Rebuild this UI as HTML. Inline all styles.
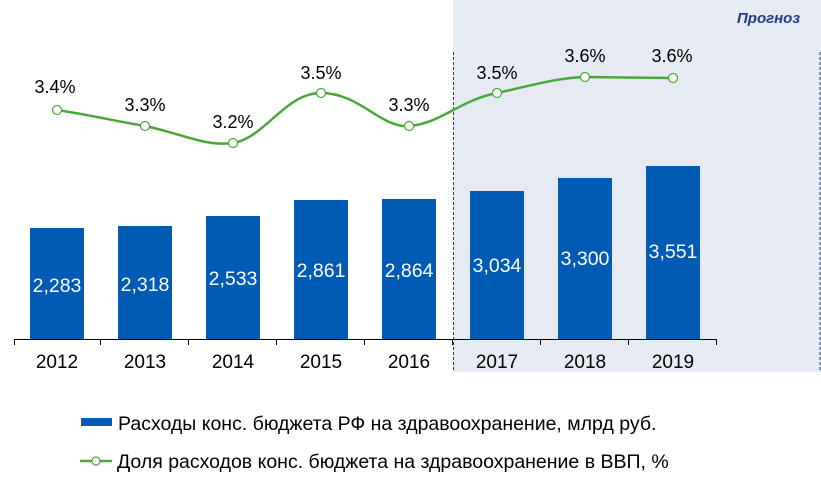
<!DOCTYPE html>
<html><head><meta charset="utf-8"><style>
body{margin:0;background:#fff;}
svg{display:block;font-family:"Liberation Sans",Arial,sans-serif;}
</style></head><body>
<svg width="821" height="478" viewBox="0 0 821 478">
<rect x="453" y="0" width="368" height="372" fill="#e6eaf3"/>
<line x1="453.5" y1="52" x2="453.5" y2="372" stroke="#1f3a7a" stroke-width="1" stroke-dasharray="3,2"/>
<line x1="820" y1="52" x2="820" y2="372" stroke="#1f3a7a" stroke-width="1" stroke-dasharray="3,2"/>
<text x="800" y="23" text-anchor="end" font-size="15" font-weight="bold" font-style="italic" fill="#1f3a8a">Прогноз</text>
<g fill="#005bb5">
<rect x="30" y="228" width="54" height="111"/>
<rect x="118" y="226" width="54" height="113"/>
<rect x="206" y="216" width="54" height="123"/>
<rect x="294" y="200" width="54" height="139"/>
<rect x="382" y="199" width="54" height="140"/>
<rect x="470" y="191" width="54" height="148"/>
<rect x="558" y="178" width="54" height="161"/>
<rect x="646" y="166" width="54" height="173"/>
</g>
<g fill="#fff" font-size="19.5" text-anchor="middle">
<text x="57" y="292">2,283</text>
<text x="145" y="291">2,318</text>
<text x="233" y="285">2,533</text>
<text x="321" y="277">2,861</text>
<text x="409" y="277">2,864</text>
<text x="497" y="272">3,034</text>
<text x="585" y="265">3,300</text>
<text x="673" y="258">3,551</text>
</g>
<line x1="14" y1="339.5" x2="716" y2="339.5" stroke="#000"/>
<g stroke="#000">
<line x1="14.5" y1="339" x2="14.5" y2="345"/><line x1="100.5" y1="339" x2="100.5" y2="345"/>
<line x1="188.5" y1="339" x2="188.5" y2="345"/><line x1="276.5" y1="339" x2="276.5" y2="345"/>
<line x1="364.5" y1="339" x2="364.5" y2="345"/><line x1="452.5" y1="339" x2="452.5" y2="345"/>
<line x1="540.5" y1="339" x2="540.5" y2="345"/><line x1="628.5" y1="339" x2="628.5" y2="345"/>
<line x1="716.5" y1="339" x2="716.5" y2="345"/>
</g>
<g font-size="19" text-anchor="middle" fill="#000">
<text x="57" y="368">2012</text><text x="145" y="368">2013</text><text x="233" y="368">2014</text>
<text x="321" y="368">2015</text><text x="409" y="368">2016</text><text x="497" y="368">2017</text>
<text x="585" y="368">2018</text><text x="673" y="368">2019</text>
</g>
<path d="M57,110 C90,115 115,121 145,126 C180,133 205,147 233,143 C265,138 285,93 321,93 C360,93 380,128 409,126 C440,124 460,100 497,93 C530,86 555,78 585,77 L673,78" fill="none" stroke="#4aa83a" stroke-width="2.5"/>
<g fill="#fff" stroke="#4aa83a" stroke-width="1.2">
<circle cx="57" cy="110" r="4.5"/><circle cx="145" cy="126" r="4.5"/><circle cx="233" cy="143" r="4.5"/>
<circle cx="321" cy="93" r="4.5"/><circle cx="409" cy="126" r="4.5"/><circle cx="497" cy="93" r="4.5"/>
<circle cx="585" cy="77" r="4.5"/><circle cx="673" cy="78" r="4.5"/>
</g>
<g font-size="18" text-anchor="middle" fill="#000">
<text x="55" y="93">3.4%</text><text x="145" y="111">3.3%</text><text x="233" y="128">3.2%</text>
<text x="321" y="79">3.5%</text><text x="409" y="111">3.3%</text><text x="497" y="79">3.5%</text>
<text x="585" y="62">3.6%</text><text x="672" y="62">3.6%</text>
</g>
<rect x="81" y="418" width="31" height="8" fill="#005bb5"/>
<text x="118" y="430" font-size="19.5" fill="#000">Расходы конс. бюджета РФ на здравоохранение, млрд руб.</text>
<line x1="80" y1="461" x2="112" y2="461" stroke="#4aa83a" stroke-width="2.5"/>
<circle cx="96" cy="461" r="4" fill="#fff" stroke="#4aa83a" stroke-width="1.2"/>
<text x="117" y="468" font-size="19.5" fill="#000">Доля расходов конс. бюджета на здравоохранение в ВВП, %</text>
</svg>
</body></html>
